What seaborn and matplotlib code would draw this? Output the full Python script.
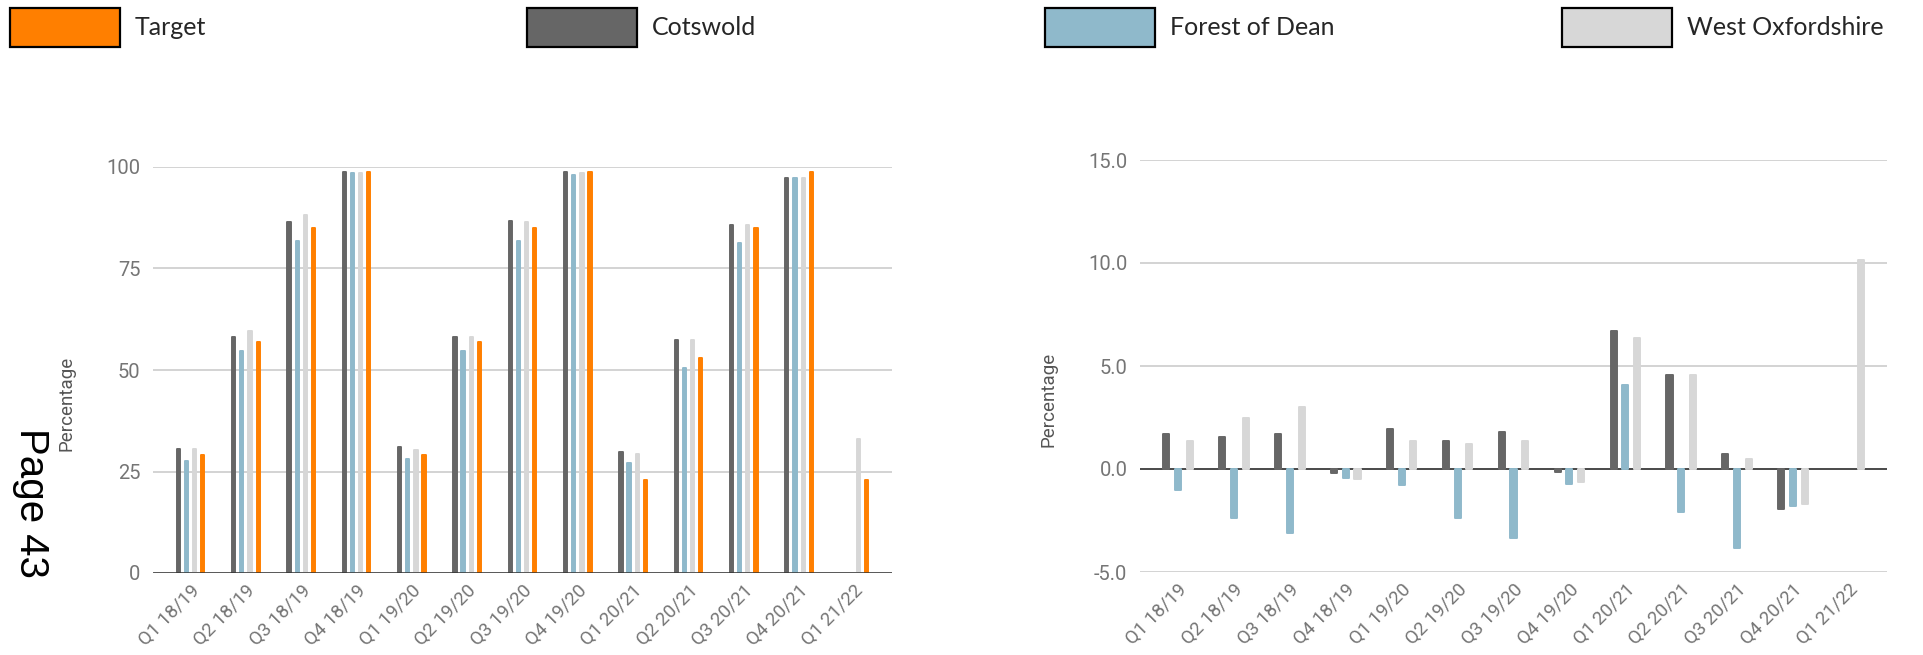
import numpy as np
import pandas as pd
import matplotlib
matplotlib.use("Agg")
import matplotlib.pyplot as plt
import seaborn as sns
from matplotlib.patches import Patch

# =========================
# Data
# =========================
quarters = ["Q1 18/19", "Q2 18/19", "Q3 18/19", "Q4 18/19",
            "Q1 19/20", "Q2 19/20", "Q3 19/20", "Q4 19/20",
            "Q1 20/21", "Q2 20/21", "Q3 20/21", "Q4 20/21",
            "Q1 21/22"]

# left chart: percentage
cotswold = [30.5, 58.2, 86.5, 98.8, 31.0, 58.2, 86.8, 98.8, 29.8, 57.5, 85.7, 97.2, np.nan]
forest_of_dean = [27.6, 54.7, 81.7, 98.5, 28.2, 54.7, 81.7, 98.0, 27.0, 50.6, 81.3, 97.2, np.nan]
west_oxfordshire = [30.5, 59.5, 88.1, 98.5, 30.2, 58.2, 86.5, 98.5, 29.4, 57.5, 85.7, 97.2, 33.1]
target = [29.0, 56.8, 85.0, 98.8, 29.0, 56.8, 85.0, 98.8, 22.9, 53.0, 85.0, 98.8, 22.9]

# right chart: difference from target
cotswold_diff = [1.7, 1.55, 1.7, -0.18, 1.95, 1.38, 1.8, -0.16, 6.7, 4.57, 0.73, -1.95, np.nan]
forest_diff = [-1.0, -2.38, -3.1, -0.42, -0.8, -2.38, -3.35, -0.72, 4.07, -2.1, -3.85, -1.8, np.nan]
west_oxon_diff = [1.38, 2.47, 3.02, -0.5, 1.38, 1.22, 1.38, -0.65, 6.38, 4.57, 0.48, -1.72, 10.15]

areas = ["Cotswold", "Forest of Dean", "West Oxfordshire", "Target"]
colors = {"Cotswold": "#666666", "Forest of Dean": "#8fb9cb",
          "West Oxfordshire": "#d7d7d7", "Target": "#ff7f00"}
legend_order = ["Target", "Cotswold", "Forest of Dean", "West Oxfordshire"]

# wide -> long
left_df = pd.DataFrame({"quarter": quarters, "Cotswold": cotswold,
                        "Forest of Dean": forest_of_dean,
                        "West Oxfordshire": west_oxfordshire, "Target": target})
left_df = left_df.melt(id_vars="quarter", var_name="area", value_name="value").dropna()

right_df = pd.DataFrame({"quarter": quarters, "Cotswold": cotswold_diff,
                         "Forest of Dean": forest_diff,
                         "West Oxfordshire": west_oxon_diff})
right_df = right_df.melt(id_vars="quarter", var_name="area", value_name="value").dropna()

# =========================
# Style
# =========================
sns.set_style("white")
plt.rcParams["font.family"] = ["Roboto", "DejaVu Sans"]

TICK_GREY = "#757575"
GRID_GREY = "#cccccc"

fig = plt.figure(figsize=(19.24, 6.55), dpi=100)
ax1 = fig.add_axes([153 / 1924, 1 - 573 / 655, 739 / 1924, 406 / 655])
ax2 = fig.add_axes([1140 / 1924, 1 - 572 / 655, 747 / 1924, 412 / 655])


def round_bars(ax):
    # slightly rounded ends like the original google chart
    for p in ax.patches:
        p.set_edgecolor(p.get_facecolor())
        p.set_linewidth(1.4)
        p.set_joinstyle("round")


def style_axis(ax, yticks, ylabels, ylim, label_x, label_y):
    ax.set_ylim(*ylim)
    ax.set_xlim(-0.68, len(quarters) - 1 + 0.68)
    ax.set_yticks(yticks)
    ax.set_yticklabels(ylabels)
    ax.yaxis.grid(True, color=GRID_GREY, linewidth=1.2)
    ax.xaxis.grid(False)
    ax.set_axisbelow(True)
    for s in ax.spines.values():
        s.set_visible(False)
    ax.tick_params(axis="y", length=0, pad=9, labelsize=14.5, labelcolor=TICK_GREY)
    ax.tick_params(axis="x", length=0, pad=6, labelsize=13.5, labelcolor=TICK_GREY)
    for lab in ax.get_xticklabels():
        lab.set_rotation(45)
        lab.set_ha("right")
        lab.set_rotation_mode("anchor")
    ax.set_xlabel("")
    ax.set_ylabel("Percentage", fontsize=13.5, color="#555555")
    ax.yaxis.set_label_coords(label_x, label_y)


# =========================
# Left: percentage
# =========================
sns.barplot(data=left_df, x="quarter", y="value", hue="area", order=quarters,
            hue_order=areas, palette=colors, saturation=1, width=0.59, gap=0.6,
            errorbar=None, legend=False, ax=ax1)
round_bars(ax1)
ax1.axhline(0, color="#333333", linewidth=1.8, zorder=3)
style_axis(ax1, [0, 25, 50, 75, 100], ["0", "25", "50", "75", "100"],
           (0, 100), -0.1055, 0.419)

# =========================
# Right: difference
# =========================
sns.barplot(data=right_df, x="quarter", y="value", hue="area", order=quarters,
            hue_order=areas[:3], palette=colors, saturation=1, width=0.628, gap=0.48,
            errorbar=None, legend=False, ax=ax2)
round_bars(ax2)
ax2.axhline(0, color="#333333", linewidth=1.2, zorder=0.8)
style_axis(ax2, [-5, 0, 5, 10, 15], ["-5.0", "0.0", "5.0", "10.0", "15.0"],
           (-5, 15), -0.1098, 0.42)

# =========================
# Legend across the top
# =========================
for i, name in enumerate(legend_order):
    handle = Patch(facecolor=colors[name], edgecolor="black", linewidth=1.6, label=name)
    fig.legend(handles=[handle], loc="upper left",
               bbox_to_anchor=(0.0052 + i * 0.2689, 1 - 8 / 655),
               frameon=False, borderpad=0, borderaxespad=0,
               handlelength=4.4, handleheight=2.0, handletextpad=0.6,
               prop={"family": ["Lato", "DejaVu Sans"], "size": 18})

# page number on the side
fig.text(31 / 1924, 1 - 503 / 655, "Page 43", rotation=-90, ha="center", va="center",
         fontsize=29, family=["Liberation Sans", "DejaVu Sans"], color="black")

fig.savefig("out.png", dpi=100)
plt.close(fig)
